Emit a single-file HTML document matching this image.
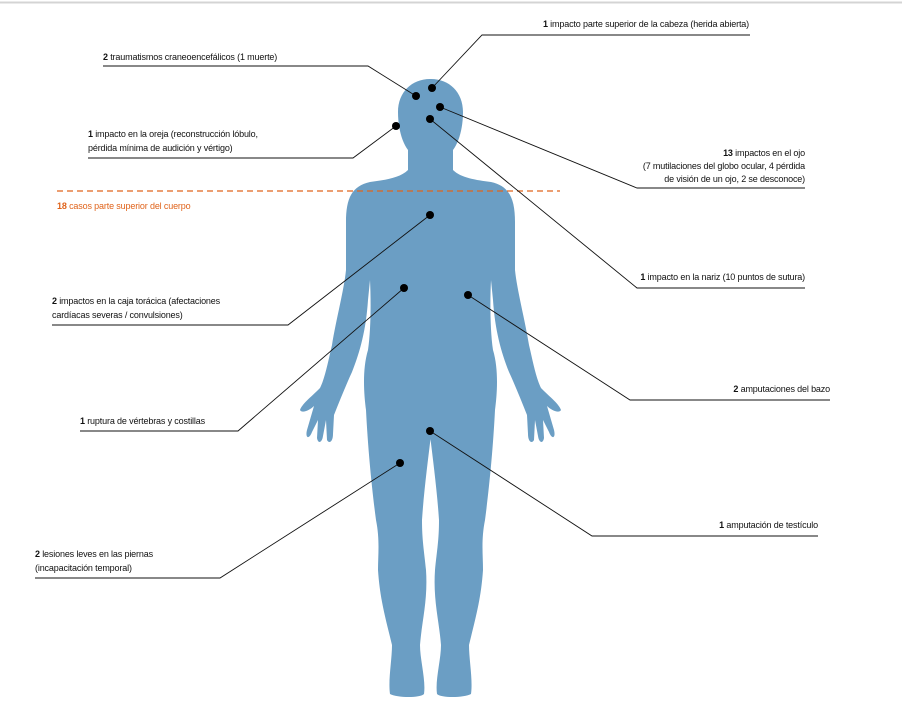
<!DOCTYPE html>
<html><head><meta charset="utf-8"><style>
html,body{margin:0;padding:0;background:#fff;}
svg{display:block;}
text{font-family:"Liberation Sans",sans-serif;font-size:9px;fill:#111;letter-spacing:-0.15px;}
.b{font-weight:bold;}
.o{fill:#e0641c;}
</style></head><body>
<svg width="902" height="703" viewBox="0 0 902 703" xmlns="http://www.w3.org/2000/svg">
<line x1="0" y1="2.5" x2="902" y2="2.5" stroke="#d4d4d4" stroke-width="2"/>
<defs>
<path id="half" fill="#6b9ec4" d="M430,79 C412,79 398,92 398,112 C398,128 402,142 408,150 L408,170 C400,178 385,180 370,182 C352,186 346,198 346,222 L346,270 C344,290 336,320 332,345 C328,362 325,378 320,388 C310,398 302,404 300,410 C302,414 310,410 314,406 L307,430 C305,438 309,440 312,432 L318,420 L317,438 C318,444 322,443 323,436 L326,420 L327,440 C329,444 333,442 333,434 L334,415 C340,400 346,385 352,372 C360,352 366,330 368,300 L370,280 C371,300 371,330 368,350 C362,370 364,395 366,410 C368,450 372,490 376,520 C380,540 378,555 378,570 C380,600 386,620 392,645 C392,660 388,680 390,694 C398,698 420,698 424,694 C426,680 420,660 420,645 C422,620 428,600 426,570 C424,550 422,540 422,520 C424,490 428,460 431,435 L431,79 Z"/>
</defs>
<use href="#half"/>
<use href="#half" transform="translate(861,0) scale(-1,1)"/>

<line x1="57" y1="191" x2="560" y2="191" stroke="#e0641c" stroke-width="1.3" stroke-dasharray="6,4"/>
<text x="57" y="209" class="o"><tspan class="b o">18</tspan> casos parte superior del cuerpo</text>

<g stroke="#111" stroke-width="0.9" fill="none">
<polyline points="432,88 482,35 750,35"/>
<polyline points="103,66 368,66 416,96"/>
<polyline points="396,126 353,158 88,158"/>
<polyline points="440,107 637,188 805,188"/>
<polyline points="430,119 637,288 805,288"/>
<polyline points="430,215 288,325 52,325"/>
<polyline points="404,288 238,431 80,431"/>
<polyline points="468,295 630,400 830,400"/>
<polyline points="430,431 592,536 818,536"/>
<polyline points="400,463 220,578 35,578"/>
</g>
<g fill="#000">
<circle cx="432" cy="88" r="4"/><circle cx="416" cy="96" r="4"/>
<circle cx="440" cy="107" r="4"/><circle cx="430" cy="119" r="4"/>
<circle cx="396" cy="126" r="4"/><circle cx="430" cy="215" r="4"/>
<circle cx="404" cy="288" r="4"/><circle cx="468" cy="295" r="4"/>
<circle cx="430" cy="431" r="4"/><circle cx="400" cy="463" r="4"/>
</g>

<text x="749" y="27" text-anchor="end"><tspan class="b">1</tspan> impacto parte superior de la cabeza (herida abierta)</text>
<text x="103" y="60"><tspan class="b">2</tspan> traumatismos craneoencefálicos (1 muerte)</text>
<text x="88" y="137"><tspan class="b">1</tspan> impacto en la oreja (reconstrucción lóbulo,</text>
<text x="88" y="151">pérdida mínima de audición y vértigo)</text>
<text x="805" y="156" text-anchor="end"><tspan class="b">13</tspan> impactos en el ojo</text>
<text x="805" y="169" text-anchor="end">(7 mutilaciones del globo ocular, 4 pérdida</text>
<text x="805" y="182" text-anchor="end">de visión de un ojo, 2 se desconoce)</text>
<text x="805" y="280" text-anchor="end"><tspan class="b">1</tspan> impacto en la nariz (10 puntos de sutura)</text>
<text x="52" y="304"><tspan class="b">2</tspan> impactos en la caja torácica (afectaciones</text>
<text x="52" y="318">cardíacas severas / convulsiones)</text>
<text x="80" y="424"><tspan class="b">1</tspan> ruptura de vértebras y costillas</text>
<text x="830" y="392" text-anchor="end"><tspan class="b">2</tspan> amputaciones del bazo</text>
<text x="818" y="528" text-anchor="end"><tspan class="b">1</tspan> amputación de testículo</text>
<text x="35" y="557"><tspan class="b">2</tspan> lesiones leves en las piernas</text>
<text x="35" y="571">(incapacitación temporal)</text>
</svg>
</body></html>
